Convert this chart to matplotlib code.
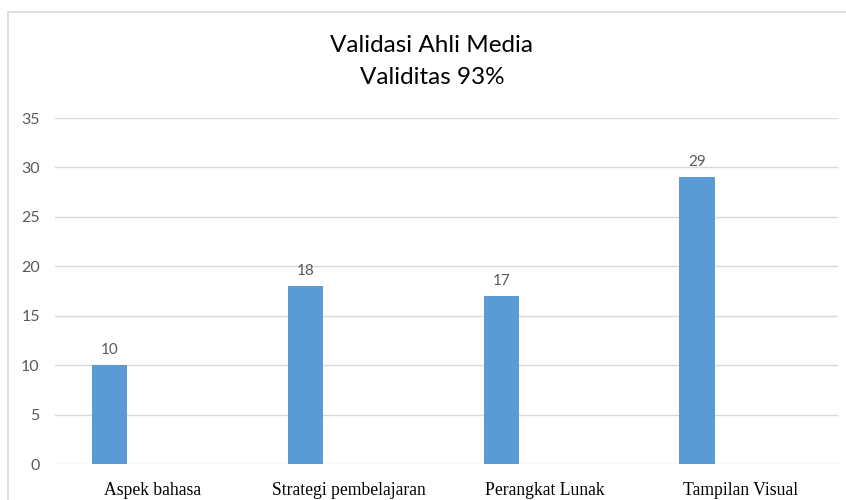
import matplotlib
matplotlib.use("Agg")
import matplotlib.pyplot as plt
from matplotlib.patches import Rectangle
import numpy as np

categories = ["Aspek bahasa", "Strategi pembelajaran", "Perangkat Lunak", "Tampilan Visual"]
values = [10, 18, 17, 29]
y_ticks = [0, 5, 10, 15, 20, 25, 30, 35]

BAR = "#5B9BD5"
GRID = "#D9D9D9"
TICK = "#595959"

fig = plt.figure(figsize=(8.46, 5.0), dpi=100, facecolor="white")

# outer chart border (runs off the right and bottom edges like the screenshot)
fig.patches.append(Rectangle((8 / 846, -0.02), 1.05, 1 - 12 / 500 + 0.02,
                             transform=fig.transFigure, fill=False,
                             edgecolor=GRID, lw=1.2))

ax = fig.add_axes([55 / 846, 1 - 464 / 500, (838 - 55) / 846, (464 - 118) / 500])
x = np.arange(len(categories))
ax.bar(x - 0.22, values, width=0.18, color=BAR, zorder=3)

ax.set_xlim(-0.5, len(categories) - 0.5)
ax.set_ylim(0, 35)
ax.set_yticks(y_ticks)
ax.set_yticklabels([str(v) for v in y_ticks], fontsize=11.5, color=TICK,
                   family=["Lato", "DejaVu Sans"])
ax.set_xticks(x)
ax.set_xticklabels(categories, fontsize=12.7, color="black",
                   family=["Liberation Serif", "DejaVu Serif"])
ax.tick_params(axis="y", length=0, pad=11)
ax.tick_params(axis="x", length=0, pad=13)
ax.grid(axis="y", color=GRID, lw=1.0, zorder=0)
for s in ax.spines.values():
    s.set_visible(False)

for xi, v in zip(x, values):
    ax.annotate(str(v), (xi - 0.22, v), xytext=(0, 6), textcoords="offset points",
                ha="center", va="bottom", fontsize=11, color=TICK,
                family=["Lato", "DejaVu Sans"])

fig.text(432 / 846, 1 - 45 / 500, "Validasi Ahli Media", ha="center", va="center",
         fontsize=17.5, color="black", family=["Lato", "DejaVu Sans"])
fig.text(432 / 846, 1 - 78 / 500, "Validitas 93%", ha="center", va="center",
         fontsize=17.5, color="black", family=["Lato", "DejaVu Sans"])

fig.savefig("out.png", dpi=100, facecolor="white")
